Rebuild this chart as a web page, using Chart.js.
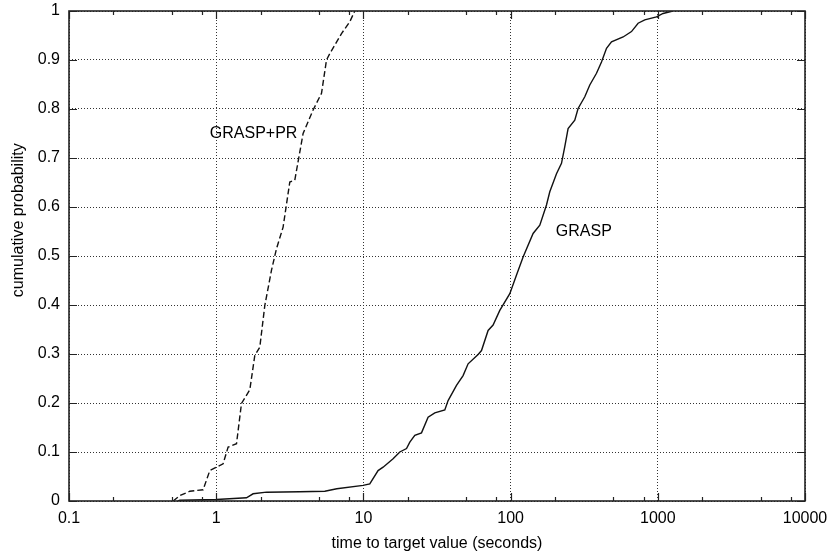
<!DOCTYPE html>
<html><head><meta charset="utf-8">
<script src="https://cdn.jsdelivr.net/npm/chart.js@4"></script>
<style>html,body{margin:0;padding:0;background:#fff}#wrap{width:831px;height:554px;position:relative}</style>
</head><body><div id="wrap"><canvas id="c" width="831" height="554"></canvas></div>
<script>
// ---- data ----
const grasppr_time = [0.510, 0.566, 0.662, 0.815, 0.905, 1.005, 1.114, 1.205, 1.374, 1.485, 1.692, 1.829, 1.978, 2.139, 2.375, 2.568, 2.848, 3.162, 3.42, 3.894, 4.553, 5.193, 5.614, 5.911, 7.10, 8.08, 8.74];
const grasppr_prob = [0, 0.011, 0.020, 0.023, 0.062, 0.069, 0.076, 0.110, 0.117, 0.199, 0.227, 0.297, 0.314, 0.399, 0.471, 0.515, 0.559, 0.651, 0.655, 0.750, 0.798, 0.832, 0.900, 0.913, 0.954, 0.978, 1.0];
const grasp_time = [0.548, 0.566, 1.005, 1.606, 1.781, 2.197, 3.698, 5.468, 6.597, 9.95, 11.05, 12.58, 13.61, 15.91, 17.67, 19.63, 20.67, 22.35, 24.81, 27.51, 30.56, 35.73, 37.62, 42.90, 47.56, 51.44, 60.15, 63.44, 70.34, 76.04, 84.45, 98.76, 109.7, 121.6, 142.2, 157.9, 175.3, 184.6, 205.0, 221.7, 233.4, 245.8, 272.9, 287.4, 319.2, 345.1, 383.3, 414.5, 448.3, 484.7, 581.3, 662.6, 734.8, 815.6, 979.9, 1086, 1264];
const grasp_prob = [0, 0.0014, 0.003, 0.0065, 0.0147, 0.018, 0.019, 0.020, 0.025, 0.032, 0.035, 0.062, 0.069, 0.086, 0.100, 0.107, 0.120, 0.134, 0.139, 0.171, 0.180, 0.186, 0.205, 0.236, 0.256, 0.280, 0.299, 0.307, 0.348, 0.359, 0.389, 0.423, 0.461, 0.498, 0.546, 0.563, 0.604, 0.631, 0.668, 0.689, 0.723, 0.760, 0.777, 0.801, 0.825, 0.849, 0.873, 0.896, 0.924, 0.937, 0.947, 0.958, 0.975, 0.982, 0.988, 0.995, 1.0];
const xMajorTicks = [0.1, 1, 10, 100, 1000, 10000];
const xMinorFactors = [2, 5, 8];
const yTicks = [0, 0.1, 0.2, 0.3, 0.4, 0.5, 0.6, 0.7, 0.8, 0.9, 1];
const seriesNames = ['GRASP+PR', 'GRASP'];
const seriesLabelTime = [0.905, 203];
const seriesLabelProb = [0.75, 0.55];
const xTitle = 'time to target value (seconds)';
const yTitle = 'cumulative probability';
const yTitleCenterProb = 0.573;   // the y-axis title is centred a little above mid-axis

const FONT = 'Liberation Sans, Arial, Helvetica, sans-serif';
const INK = '#000';
const isDecade = v => Math.abs(Math.log10(v) - Math.round(Math.log10(v))) < 1e-9;

const xTickList = [];
xMajorTicks.forEach((m, i) => {
  xTickList.push({value: m, major: true});
  if (i < xMajorTicks.length - 1) xMinorFactors.forEach(f => xTickList.push({value: m * f, major: false}));
});

const toPts = (t, p) => t.map((v, i) => ({x: v, y: p[i]}));

const overlay = {
  id: 'overlay',
  afterDatasetsDraw(chart) {
    const {ctx, chartArea: a, scales: {x, y}} = chart;
    ctx.save();
    ctx.strokeStyle = '#222';
    ctx.lineWidth = 1.2;
    ctx.beginPath();
    xTickList.forEach(t => {
      const px = Math.round(x.getPixelForValue(t.value)) + 0.5;
      const len = t.major ? 8 : 4;
      ctx.moveTo(px, a.bottom); ctx.lineTo(px, a.bottom - len);
      ctx.moveTo(px, a.top); ctx.lineTo(px, a.top + len);
    });
    yTicks.forEach(v => {
      const py = Math.round(y.getPixelForValue(v)) + 0.5;
      ctx.moveTo(a.left, py); ctx.lineTo(a.left + 8, py);
      ctx.moveTo(a.right, py); ctx.lineTo(a.right - 8, py);
    });
    ctx.stroke();
    ctx.lineWidth = 1.6;
    ctx.strokeRect(a.left, a.top, a.right - a.left, a.bottom - a.top);
    ctx.fillStyle = INK;
    ctx.font = '16px ' + FONT;
    ctx.textAlign = 'left';
    ctx.textBaseline = 'middle';
    seriesNames.forEach((n, i) => {
      ctx.fillText(n, x.getPixelForValue(seriesLabelTime[i]), y.getPixelForValue(seriesLabelProb[i]));
    });
    // y-axis title
    ctx.translate(18.5, y.getPixelForValue(yTitleCenterProb));
    ctx.rotate(-Math.PI / 2);
    ctx.textAlign = 'center';
    ctx.fillText(yTitle, 0, 0);
    ctx.restore();
  }
};

new Chart(document.getElementById('c'), {
  type: 'scatter',
  data: {
    datasets: [
      {label: seriesNames[0], data: toPts(grasppr_time, grasppr_prob), showLine: true, pointRadius: 0,
       borderColor: '#111', borderWidth: 1.4, borderDash: [6, 3], tension: 0, fill: false},
      {label: seriesNames[1], data: toPts(grasp_time, grasp_prob), showLine: true, pointRadius: 0,
       borderColor: '#111', borderWidth: 1.4, tension: 0, fill: false}
    ]
  },
  options: {
    responsive: false,
    animation: false,
    devicePixelRatio: 1,
    layout: {padding: {top: 11, right: 26, left: 0, bottom: 0}},
    plugins: {legend: {display: false}, tooltip: {enabled: false}},
    scales: {
      x: {
        type: 'logarithmic', min: 0.1, max: 10000,
        afterBuildTicks: s => { s.ticks = xTickList.map(t => ({value: t.value, major: t.major})); },
        afterFit: s => { s.height = 53; s.paddingLeft = 0; s.paddingRight = 0; s.paddingTop = 0; s.paddingBottom = 0; },
        ticks: {autoSkip: false, maxRotation: 0, minRotation: 0, padding: 8, color: INK,
                font: {family: FONT, size: 16},
                callback: v => isDecade(v) ? String(+v.toPrecision(6)) : ''},
        grid: {drawTicks: false, lineWidth: 1,
               color: c => (c.tick && isDecade(c.tick.value)) ? '#333' : 'rgba(0,0,0,0)'},
        border: {display: false, dash: [1, 2]},
        title: {display: true, text: xTitle, color: INK, font: {family: FONT, size: 16}, padding: {top: 0, bottom: 1}}
      },
      y: {
        type: 'linear', min: 0, max: 1,
        afterBuildTicks: s => { s.ticks = yTicks.map(v => ({value: v})); },
        afterFit: s => { s.width = 69; s.paddingLeft = 0; s.paddingRight = 0; s.paddingTop = 0; s.paddingBottom = 0; },
        ticks: {padding: 9, color: INK, font: {family: FONT, size: 16},
                callback: v => String(+v.toFixed(1))},
        grid: {drawTicks: false, lineWidth: 1, color: '#333'},
        border: {display: false, dash: [1, 2]},
        title: {display: false, text: yTitle}
      }
    }
  },
  plugins: [overlay]
});
</script>
</body></html>
